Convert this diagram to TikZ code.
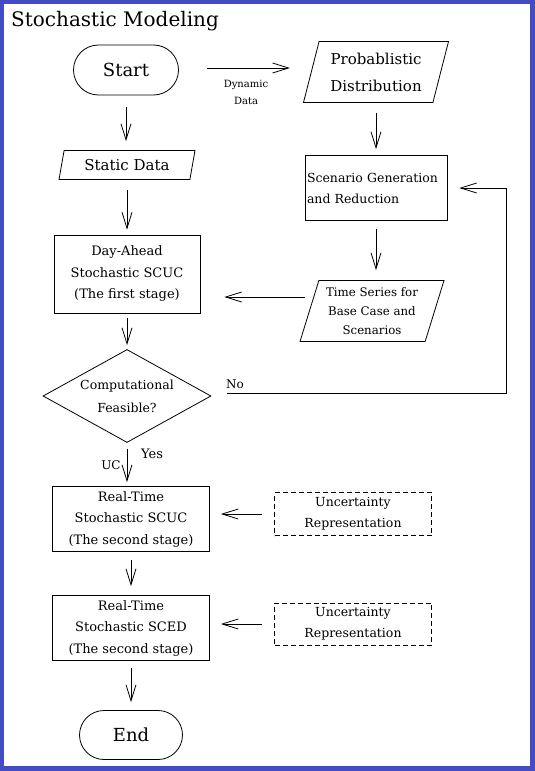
\documentclass[tikz,border=0pt]{standalone}
\usepackage{fontspec}
\setmainfont{DejaVu Serif}
\usetikzlibrary{shapes.geometric, shapes.misc, arrows.meta}
\definecolor{frameblue}{RGB}{68,76,196}
\tikzset{
  flow/.style={line width=0.8pt, -{Straight Barb[length=16pt,width=10pt,line width=0.8pt]}},
  terminal/.style={draw, line width=0.8pt, rounded rectangle, minimum width=105pt, minimum height=50pt, inner sep=0pt, font=\fontsize{18}{22}\selectfont},
  process/.style={draw, line width=0.8pt, rectangle, align=center, minimum width=157pt, minimum height=65pt, inner sep=2pt, font=\fontsize{13}{21.5}\selectfont},
  datain/.style={draw, line width=0.8pt, trapezium, trapezium left angle=69, trapezium right angle=111, trapezium stretches body, inner sep=1pt, align=center},
  decision/.style={draw, line width=0.8pt, diamond, aspect=1.8, minimum width=168pt, minimum height=93pt, inner sep=0pt, align=center, font=\fontsize{12.5}{23}\selectfont},
  uncbox/.style={process, dash pattern=on 5pt off 3pt, minimum height=43pt, font=\fontsize{12.5}{21}\selectfont},
  lbl/.style={inner sep=0pt, align=center, font=\fontsize{12}{14}\selectfont}
}
\begin{document}
\begin{tikzpicture}[x=1pt, y=-1pt]
    % Rahmen
    \useasboundingbox (0,0) rectangle (535,771);
    \fill[frameblue] (0,0) rectangle (535,771);
    \fill[white] (4,4) rectangle (530,766);
    \node[anchor=base west, inner sep=0pt, font=\fontsize{20}{24}\selectfont] (title) at (11,27) {Stochastic Modeling};

    % Linke Spalte
    \node[terminal] (start) at (126,70) {Start};
    \node[datain, minimum width=136pt, minimum height=29pt, font=\fontsize{15}{18}\selectfont] (static) at (127,165) {Static Data};
    \node[process, minimum width=146pt, minimum height=78pt] (day) at (127,274) {Day-Ahead\\Stochastic SCUC\\(The first stage)};
    \node[decision] (feas) at (127,396) {Computational\\Feasible?};
    \node[process] (scuc) at (131,519) {Real-Time\\Stochastic SCUC\\(The second stage)};
    \node[process] (sced) at (131,628) {Real-Time\\Stochastic SCED\\(The second stage)};
    \node[terminal, minimum width=103pt, minimum height=49pt] (end) at (131,735) {End};

    % Rechte Spalte
    \node[datain, minimum width=145pt, minimum height=61pt, font=\fontsize{15}{27}\selectfont] (prob) at (376,72) {Probablistic\\Distribution};
    \node[process, minimum width=142pt, text width=138pt, align=left, font=\fontsize{12.5}{21}\selectfont] (scen) at (376,188) {Scenario Generation\\and Reduction};
    \node[datain, minimum width=144pt, minimum height=61pt, font=\fontsize{11.8}{19}\selectfont] (ts) at (372,311) {Time Series for\\Base Case and\\Scenarios};
    \node[uncbox] (unc1) at (353,514) {Uncertainty\\Representation};
    \node[uncbox, minimum height=42pt] (unc2) at (353,624) {Uncertainty\\Representation};

    % Beschriftungen
    \node[lbl, font=\fontsize{10}{17}\selectfont] (dyn) at (246,92) {Dynamic\\Data};
    \node[lbl] (no) at (235,384) {No};
    \node[lbl, font=\fontsize{13}{15}\selectfont] (yes) at (152,454) {Yes};
    \node[lbl] (uc) at (111,465) {UC};

    % Pfeile
    \coordinate (tsin) at (305,297);
    \coordinate (dynin) at (207,68);
    \draw[flow, shorten >=21pt] (dynin) -- (dynin -| prob.west);
    \draw[flow, shorten <=12pt, shorten >=9pt] (start.south) -- (start.south |- static.north);
    \draw[flow, shorten <=10pt, shorten >=5pt] (static.south) -- (static.south |- day.north);
    \draw[flow, shorten <=5pt, shorten >=4pt] (day) -- (feas);
    \draw[flow, shorten <=6pt, shorten >=4pt] (feas.south) -- (feas.south |- scuc.north);
    \draw[flow, shorten <=8pt, shorten >=9pt] (scuc) -- (sced);
    \draw[flow, shorten <=7pt, shorten >=8pt] (sced) -- (end);
    \draw[flow, shorten <=10pt, shorten >=6pt] (prob.south) -- (prob.south |- scen.north);
    \draw[flow, shorten <=8pt, shorten >=10pt] (scen.south) -- (scen.south |- ts.north);
    \draw[flow, shorten >=24pt] (tsin) -- (tsin -| day.east);
    \draw[flow, shorten <=16pt, shorten >=12pt] ([yshift=3pt]feas.east) -- ++(295,0) |- (scen.east);
    \draw[flow, shorten <=12pt, shorten >=11pt] (unc1.west) -- (unc1.west -| scuc.east);
    \draw[flow, shorten <=12pt, shorten >=11pt] (unc2.west) -- (unc2.west -| sced.east);

\end{tikzpicture}
\end{document}
